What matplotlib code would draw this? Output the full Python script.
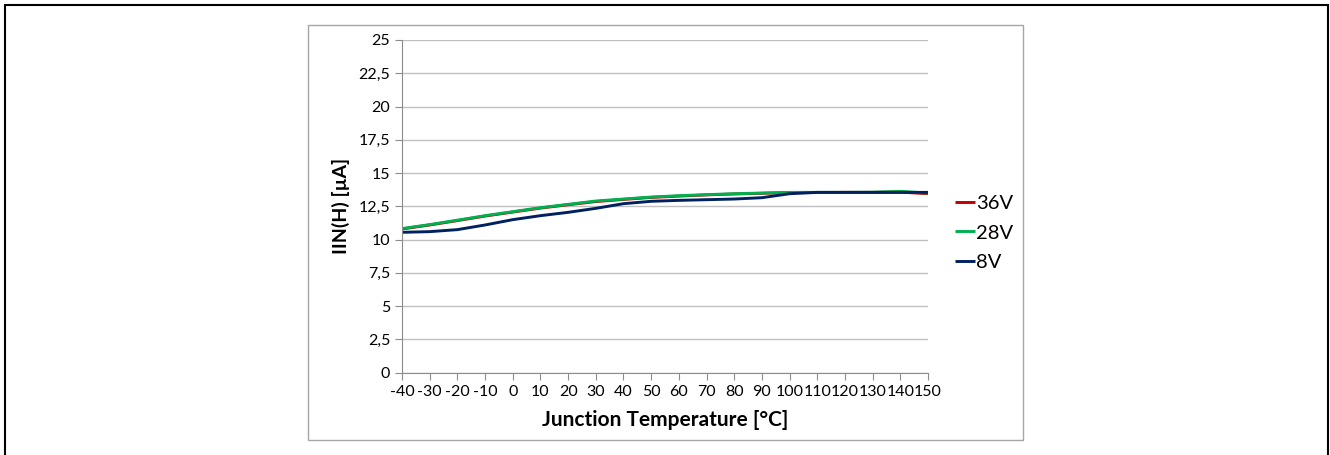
import matplotlib.pyplot as plt
from matplotlib.patches import Rectangle
from matplotlib.ticker import FuncFormatter

# ===== Data =====
temp = [-40, -30, -20, -10, 0, 10, 20, 30, 40, 50, 60, 70, 80, 90, 100, 110, 120, 130, 140, 150]
i_36v = [10.8, 11.1, 11.43, 11.77, 12.07, 12.37, 12.62, 12.86, 13.02, 13.17, 13.27, 13.36, 13.43, 13.48, 13.53, 13.54, 13.55, 13.55, 13.57, 13.45]
i_28v = [10.83, 11.13, 11.46, 11.8, 12.1, 12.4, 12.65, 12.9, 13.05, 13.2, 13.3, 13.38, 13.45, 13.5, 13.55, 13.55, 13.55, 13.56, 13.63, 13.5]
i_8v = [10.55, 10.6, 10.75, 11.1, 11.5, 11.8, 12.05, 12.35, 12.7, 12.88, 12.95, 13.0, 13.05, 13.15, 13.45, 13.55, 13.55, 13.55, 13.55, 13.55]

series = [("36V", i_36v, "#C00000"), ("28V", i_28v, "#00B050"), ("8V", i_8v, "#002060")]

plt.rcParams['font.family'] = ['Lato', 'DejaVu Sans']
plt.rcParams['axes.unicode_minus'] = False

W, H = 1330, 455
fig = plt.figure(figsize=(W / 100, H / 100), dpi=100)

# outer black frame and inner gray chart box
fig.add_artist(Rectangle((5 / W, -0.01), 1323 / W, (H - 5) / H + 0.01, transform=fig.transFigure,
                         fill=False, ec='black', lw=1.5))
fig.add_artist(Rectangle((308 / W, (H - 440) / H), 715 / W, 415 / H, transform=fig.transFigure,
                         fill=False, ec='#a6a6a6', lw=1.0))

ax = fig.add_axes([402 / W, (H - 372.7) / H, 526 / W, 332.7 / H])
for name, vals, col in series:
    ax.plot(temp, vals, color=col, lw=2.1, label=name, solid_capstyle='butt')

ax.set_xlim(-40, 150)
ax.set_ylim(0, 25)
ax.set_xticks(range(-40, 151, 10))
ax.set_yticks([i * 2.5 for i in range(11)])
ax.yaxis.set_major_formatter(FuncFormatter(lambda v, p: (f"{v:g}").replace('.', ',')))
ax.grid(axis='y', color='#bfbfbf', lw=1.0)
ax.set_axisbelow(True)
for s in ['top', 'right']:
    ax.spines[s].set_visible(False)
for s in ['left', 'bottom']:
    ax.spines[s].set_color('#8c8c8c')
ax.tick_params(axis='both', colors='#8c8c8c', labelcolor='black', labelsize=11.5, length=5, direction='out')
ax.tick_params(axis='x', pad=4)

ax.set_xlabel("Junction Temperature [°C]", fontsize=15, fontweight='bold', labelpad=8)
ax.set_ylabel("IIN(H) [µA]", fontsize=14, fontweight='bold', labelpad=6)

ax.legend(loc='center left', bbox_to_anchor=(1.016, 0.42), frameon=False, fontsize=14.5,
          handlelength=1.0, handletextpad=0.05, labelspacing=0.62)

fig.savefig('out.png', dpi=100)
